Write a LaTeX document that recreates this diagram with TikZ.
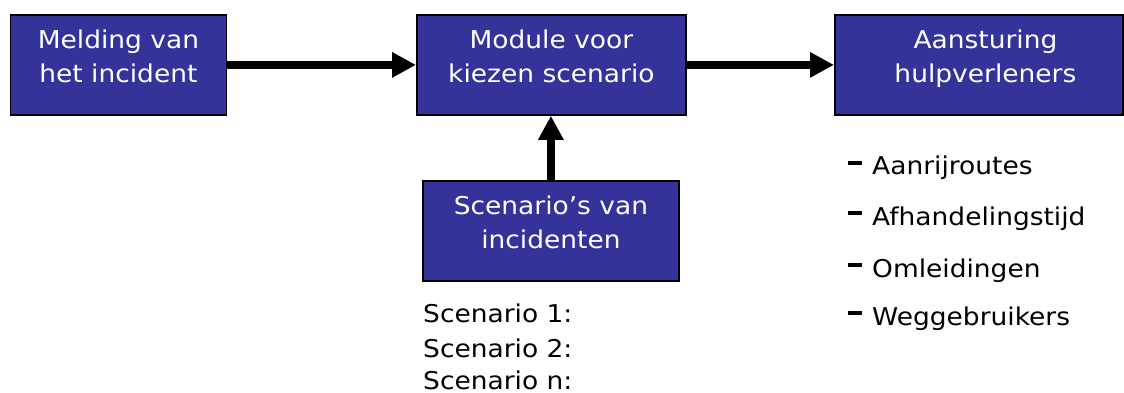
\documentclass[tikz,border=0pt]{standalone}
\usepackage{fontspec}
\setmainfont{DejaVu Sans}[FakeStretch=1.08]
\usetikzlibrary{arrows.meta}
\definecolor{boxblue}{HTML}{333399}
\tikzset{
  box/.style={draw=black, line width=1.8pt, fill=boxblue, text=white,
    font=\fontsize{24.5}{34}\selectfont, align=center, inner xsep=0pt, inner ysep=0pt,
    text height=68pt, text depth=32pt, anchor=north west},
  flow/.style={line width=8pt, -{Triangle[length=24pt,width=24pt]}},
  plain/.style={font=\fontsize{24.5}{34}\selectfont, inner sep=0pt, anchor=base west},
}
\begin{document}
\begin{tikzpicture}[x=1pt,y=-1pt]
\useasboundingbox (0,0) rectangle (1124,393);
\node[box, minimum width=216pt] (b1) at (9.5,14) {Melding van\\het incident};
\node[box, minimum width=269pt] (b2) at (416,14) {Module voor\\kiezen scenario};
\node[box, minimum width=288pt] (b3) at (834,14) {\hspace*{13pt}Aansturing\\\hspace*{13pt}hulpverleners};
\node[box, minimum width=256pt] (b4) at (422,180) {Scenario’s van\\incidenten};
\draw[flow] (b1.east) -- (b2.west);
\draw[flow] (b2.east) -- (b3.west);
\draw[flow] (b4.north) -- (b4.north |- b2.south);
\node[plain] (s1) at (423,322) {Scenario 1:};
\node[plain] (s2) at (423,357) {Scenario 2:};
\node[plain] (s3) at (423,389) {Scenario n:};
\node[plain] (l1) at (848,175) {\rule[10pt]{14pt}{4pt}\hspace{10pt}Aanrijroutes};
\node[plain] (l2) at (848,225) {\rule[10pt]{14pt}{4pt}\hspace{10pt}Afhandelingstijd};
\node[plain] (l3) at (848,277) {\rule[10pt]{14pt}{4pt}\hspace{10pt}Omleidingen};
\node[plain] (l4) at (848,325) {\rule[10pt]{14pt}{4pt}\hspace{10pt}Weggebruikers};
\end{tikzpicture}
\end{document}
